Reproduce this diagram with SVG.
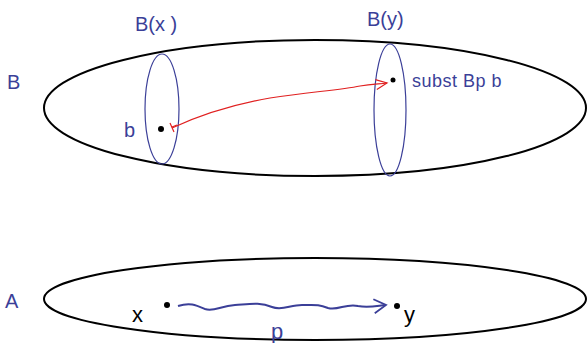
<svg xmlns="http://www.w3.org/2000/svg" width="587" height="343" viewBox="0 0 587 343">
<style>
.big{fill:none;stroke:#000;stroke-width:2}
.fib{fill:none;stroke:#3b3f98;stroke-width:1.2}
.lbl{font-family:"Liberation Sans",sans-serif;font-size:20px;fill:#3b3f98}
.blk{font-family:"Liberation Sans",sans-serif;font-size:22px;fill:#000}
.dot{fill:#000}
</style>
<defs>
<marker id="openRed" markerWidth="14" markerHeight="12" refX="12" refY="6" orient="auto" markerUnits="userSpaceOnUse">
<path d="M1,1 L12,6 L1,11" fill="none" stroke="#e02020" stroke-width="1.2"/>
</marker>
<marker id="openBlue" markerWidth="16" markerHeight="16" refX="14" refY="8" orient="auto" markerUnits="userSpaceOnUse">
<path d="M2,1 L14,8 L2,15" fill="none" stroke="#3b3f98" stroke-width="1.8"/>
</marker>
</defs>
<g id="spaceB">
<ellipse class="big" cx="315" cy="108" rx="271" ry="68"/>
<text class="lbl" x="7" y="89">B</text>
</g>
<g id="spaceA">
<ellipse class="big" cx="315" cy="299" rx="271" ry="41"/>
<text class="lbl" x="5" y="308">A</text>
</g>
<g id="fiberBx">
<ellipse class="fib" cx="162" cy="109" rx="17" ry="55"/>
<text class="lbl" x="135" y="31">B(x )</text>
</g>
<g id="fiberBy">
<ellipse class="fib" cx="390" cy="110" rx="16" ry="66"/>
<text class="lbl" x="367" y="26">B(y)</text>
</g>
<g id="point-b">
<circle class="dot" cx="161" cy="129" r="3"/>
<text class="lbl" x="124" y="137">b</text>
</g>
<g id="point-subst">
<circle class="dot" cx="393" cy="80" r="2.5"/>
<text class="lbl" x="412" y="87" style="font-size:18px;letter-spacing:0.5px">subst Bp b</text>
</g>
<g id="point-x">
<circle class="dot" cx="167" cy="305" r="3"/>
<text class="blk" x="132" y="322">x</text>
</g>
<g id="point-y">
<circle class="dot" cx="397" cy="306" r="3"/>
<text class="blk" x="404" y="322">y</text>
</g>
<g id="connectors">
<path d="M172,128 C200,115 230,105 270,98 C310,92 340,90 360,86 C372,84 380,84 387,83" fill="none" stroke="#e02020" stroke-width="1.1" marker-end="url(#openRed)"/>
<path d="M170,123 L174,132 M172,127 L177,125" fill="none" stroke="#e02020" stroke-width="1.2"/>
<path d="M178,306 C190,302 196,305 205,309 C214,312 220,306 235,305 C250,304 260,302 272,307 C282,311 290,305 302,305 C315,305 318,304 328,308 C338,311 346,303 358,306 C368,308 376,306 386,305" fill="none" stroke="#3b3f98" stroke-width="2" marker-end="url(#openBlue)"/>
<text class="lbl" x="271" y="339" style="font-size:22px">p</text>
</g>
</svg>
